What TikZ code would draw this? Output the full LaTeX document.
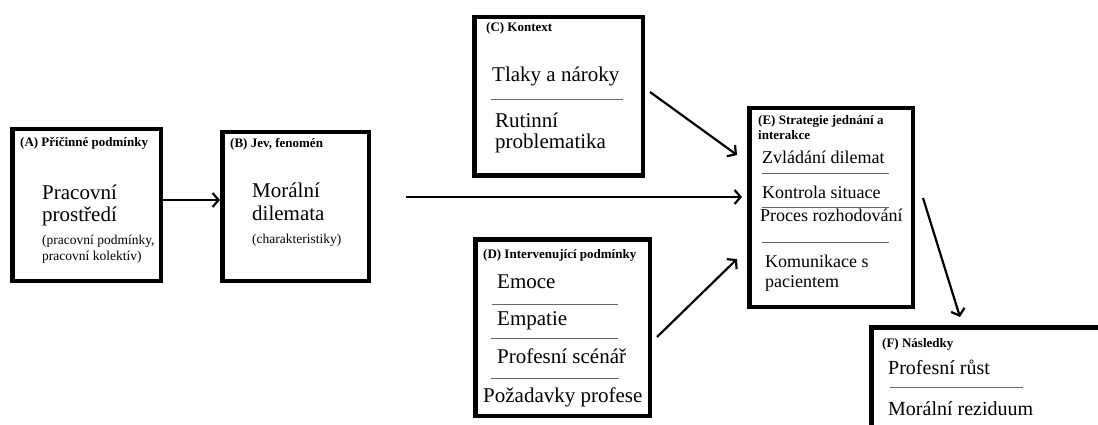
\documentclass[tikz,border=0pt]{standalone}
\usepackage{fontspec}
\setmainfont{Liberation Serif}
\usetikzlibrary{arrows.meta,positioning}

\begin{document}
\begin{tikzpicture}[x=1pt,y=-1pt,
    box/.style={draw,line width=4.5pt,anchor=north west,inner sep=0pt},
    head/.style={anchor=base west,inner sep=0pt,align=left,font=\fontsize{13}{15}\selectfont\bfseries},
    item/.style={anchor=base west,inner sep=0pt,align=left,font=\fontsize{21}{23}\selectfont},
    itemE/.style={anchor=base west,inner sep=0pt,align=left,font=\fontsize{18}{20}\selectfont},
    note/.style={anchor=base west,inner sep=0pt,align=left,font=\fontsize{13.5}{16}\selectfont},
    sepline/.style={draw=black!60,line width=0.9pt},
    arrow/.style={-{Straight Barb[length=6pt,width=14pt]},line width=2.2pt}
  ]
  \clip (0,0) rectangle (1098,425);
  \fill[white] (0,0) rectangle (1098,425);
  % boxes
  \node[box,minimum width=148.5pt,minimum height=151.5pt] (A) at (10,127) {};
  \node[box,minimum width=146.5pt,minimum height=148.5pt] (B) at (220,130) {};
  \node[box,minimum width=168.5pt,minimum height=158.5pt] (C) at (472,15) {};
  \node[box,minimum width=174.5pt,minimum height=176.5pt] (D) at (473,237) {};
  \node[box,minimum width=163.5pt,minimum height=198.5pt] (E) at (747,106) {};
  \node[box,minimum width=240pt,minimum height=120pt] (F) at (869,325) {};
  % (A)
  \node[head] (titleA) at (20,147) {(A) Příčinné podmínky};
  \node[item] (envA) at (42,222) {Pracovní\\prostředí};
  \node[note] (noteA) at (42,260) {(pracovní podmínky,\\pracovní kolektív)};
  % (B)
  \node[head] (titleB) at (230,148) {(B) Jev, fenomén};
  \node[item] (dilB) at (252,220) {Morální\\dilemata};
  \node[note] (noteB) at (252,243) {(charakteristiky)};
  % (C)
  \node[head] (titleC) at (486,32) {(C) Kontext};
  \node[item] (pressC) at (492,82) {Tlaky a nároky};
  \draw[sepline] (491,99) -- (623,99);
  \node[item,font=\fontsize{21}{21}\selectfont] (routC) at (495,149) {Rutinní\\problematika};
  % (D)
  \node[head] (titleD) at (483,258) {(D) Intervenující podmínky};
  \node[item] (emoD) at (497,288) {Emoce};
  \draw[sepline] (492,304) -- (618,304);
  \node[item] (empD) at (497,325) {Empatie};
  \draw[sepline] (491,338) -- (618,338);
  \node[item] (scenD) at (497,363) {Profesní scénář};
  \draw[sepline] (491,378) -- (619,378);
  \node[item] (reqD) at (483,402) {Požadavky profese};
  % (E)
  \node[head] (titleE) at (758,140) {(E) Strategie jednání a\\interakce};
  \node[itemE] (copeE) at (762,164) {Zvládání dilemat};
  \draw[sepline] (762,173) -- (889,173);
  \node[itemE] (ctrlE) at (762,198) {Kontrola situace};
  \draw[sepline] (762,207) -- (889,207);
  \node[itemE] (decE) at (760,222) {Proces rozhodování};
  \draw[sepline] (762,242) -- (889,242);
  \node[itemE] (commE) at (765,287) {Komunikace s\\pacientem};
  % (F)
  \node[head] (titleF) at (882,347) {(F) Následky};
  \node[item,font=\fontsize{20}{22}\selectfont] (growF) at (888,374) {Profesní růst};
  \draw[sepline] (890,387) -- (1023,387);
  \node[item,font=\fontsize{20}{22}\selectfont] (resF) at (888,415) {Morální reziduum};
  % arrows
  \coordinate (startBE) at (406,197);
  \draw[arrow] ([yshift=5pt]A.east) -- ([yshift=5pt]A.east -| B.west);
  \draw[arrow,shorten >=5pt] (startBE) -- (startBE -| E.west);
  \draw[arrow] ([shift={(5pt,4.5pt)}]C.east) -- ([shift={(-10pt,-49pt)}]E.north west);
  \draw[arrow] ([shift={(5pt,-9.5pt)}]D.east) -- ([shift={(-10pt,50pt)}]E.south west);
  \draw[arrow] ([shift={(8pt,9.5pt)}]E.east) -- ([shift={(91pt,8pt)}]F.north west);
\end{tikzpicture}
\end{document}
